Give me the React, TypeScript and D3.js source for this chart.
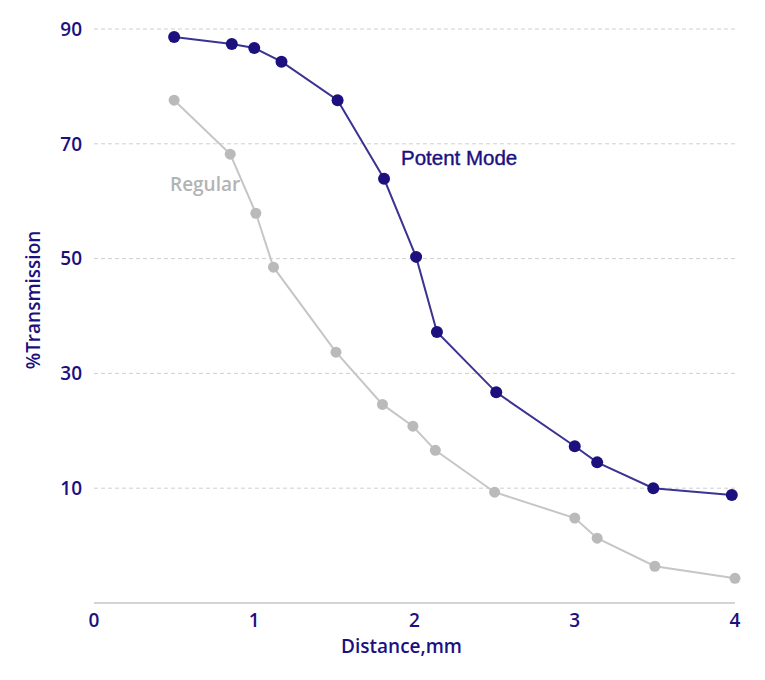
import React from "react";
import * as d3 from "d3";

const potentX = [0.5, 0.86, 1.0, 1.17, 1.52, 1.81, 2.01, 2.14, 2.51, 3.0, 3.14, 3.49, 3.98];
const potentY = [88.6, 87.4, 86.7, 84.3, 77.6, 63.9, 50.3, 37.2, 26.7, 17.3, 14.5, 10.0, 8.8];
const regularX = [0.5, 0.85, 1.01, 1.12, 1.51, 1.8, 1.99, 2.13, 2.5, 3.0, 3.14, 3.5, 4.0];
const regularY = [77.6, 68.2, 57.9, 48.5, 33.7, 24.6, 20.8, 16.6, 9.3, 4.8, 1.3, -3.6, -5.7];
const xTicks = [0, 1, 2, 3, 4];
const yTicks = [10, 30, 50, 70, 90];

export default function App() {
  const W = 765, H = 680;
  const x = d3.scaleLinear().domain([0, 4]).range([94 - 8, 735 - 8]);
  const y = d3.scaleLinear().domain([-10, 90]).range([603 - 8, 29 - 8]);
  const line = d3.line<[number, number]>().x(d => x(d[0])).y(d => y(d[1]));
  const potent: [number, number][] = potentX.map((v, i) => [v, potentY[i]]);
  const regular: [number, number][] = regularX.map((v, i) => [v, regularY[i]]);
  const navy = "#1c0f7e";
  const font = "'Open Sans', sans-serif";
  return (
    <svg width={W} height={H} style={{ display: "block" }}>
      {yTicks.map(t => (
        <g key={t}>
          <line x1={x(0)} x2={x(4)} y1={y(t)} y2={y(t)} stroke="#cfcfcf" strokeWidth={1} strokeDasharray="4,3" />
          <text x={74} y={y(t)} dy="0.36em" textAnchor="end" fill={navy} fontFamily={font} fontWeight={600} fontSize={19}>{t}</text>
        </g>
      ))}
      <line x1={x(0)} x2={x(4)} y1={y(-10)} y2={y(-10)} stroke="#d4d4d4" strokeWidth={2} />
      {xTicks.map(t => (
        <text key={t} x={x(t)} y={y(-10) + 24} textAnchor="middle" fill={navy} fontFamily={font} fontWeight={600} fontSize={19}>{t}</text>
      ))}
      <text x={(x(0) + x(4)) / 2 - 13} y={645} textAnchor="middle" fill={navy} fontFamily={font} fontWeight={600} fontSize={19}>Distance,mm</text>
      <text transform={`translate(32,${292}) rotate(-90)`} textAnchor="middle" fill={navy} fontFamily={font} fontWeight={600} fontSize={19}>%Transmission</text>

      <path d={line(regular) || ""} fill="none" stroke="#c6c6c6" strokeWidth={2} />
      {regular.map((d, i) => (
        <circle key={i} cx={x(d[0])} cy={y(d[1])} r={5.5} fill="#bababa" />
      ))}
      <path d={line(potent) || ""} fill="none" stroke="#3b3391" strokeWidth={2} />
      {potent.map((d, i) => (
        <circle key={i} cx={x(d[0])} cy={y(d[1])} r={6} fill={navy} />
      ))}
      <text x={393} y={157} fill={navy} stroke={navy} strokeWidth={0.4} fontFamily="'Liberation Sans', Arial, sans-serif" fontSize={20.5}>Potent Mode</text>
      <text x={162} y={183} fill="#b3b3b3" fontFamily={font} fontWeight={600} fontSize={19}>Regular</text>
    </svg>
  );
}
